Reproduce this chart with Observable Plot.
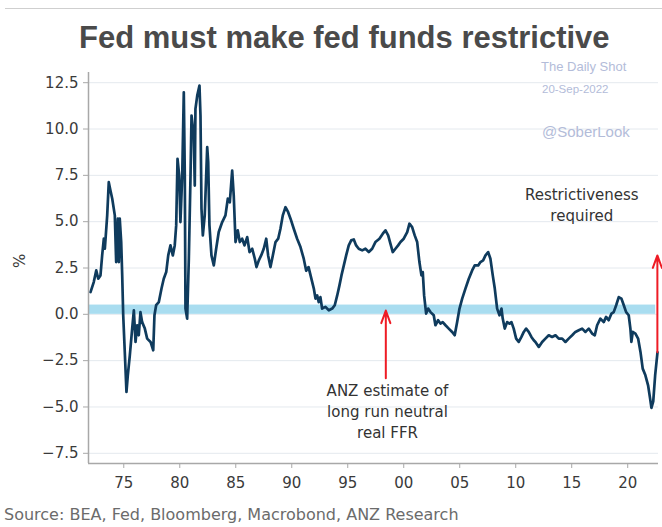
<!DOCTYPE html>
<html>
<head>
<meta charset="utf-8">
<script src="https://cdn.jsdelivr.net/npm/d3@7"></script>
<script src="https://cdn.jsdelivr.net/npm/@observablehq/plot@0.6"></script>
<style>
  html, body { margin: 0; padding: 0; background: #fff; }
  #wrap { position: relative; width: 662px; height: 527px; overflow: hidden; font-family: "DejaVu Sans", sans-serif; }
  #topline { position: absolute; left: 5px; top: 8px; width: 657px; height: 0; border-top: 1px solid #cfcfcf; }
  #title { position: absolute; left: 79px; top: 18px; white-space: nowrap; font-family: "Liberation Sans", Arial, sans-serif; font-weight: bold; font-size: 31px; color: #4a4a4a; line-height: 40px; }
  #chart { position: absolute; left: 0; top: 58px; }
  .wm { position: absolute; font-family: "Liberation Sans", Arial, sans-serif; color: #b3bcd9; white-space: nowrap; line-height: 1; }
  #caption { position: absolute; left: 4px; top: 505px; font-size: 16px; color: #6b6b6b; white-space: nowrap; line-height: 20px; }
</style>
</head>
<body>
<div id="wrap">
  <div id="topline"></div>
  <div id="title">Fed must make fed funds restrictive</div>
  <div id="chart"></div>
  <div class="wm" style="left:541px; top:60px; font-size:13px;">The Daily Shot</div>
  <div class="wm" style="left:542px; top:84px; font-size:11.5px;">20-Sep-2022</div>
  <div class="wm" style="left:542px; top:124px; font-size:15px;">@SoberLook</div>
  <div id="caption">Source: BEA, Fed, Bloomberg, Macrobond, ANZ Research</div>
</div>
<script>
const years = [
  1972.03,1972.32,1972.54,1972.72,1972.92,1973.07,1973.22,1973.31,1973.52,1973.66,1973.81,1973.97,
  1974.2,1974.32,1974.47,1974.56,1974.64,1974.77,1974.86,1974.95,1975.09,1975.24,1975.36,1975.54,
  1975.75,1975.9,1976.05,1976.2,1976.34,1976.49,1976.64,1976.88,1977.09,1977.39,1977.63,1977.74,
  1977.89,1978.13,1978.37,1978.57,1978.79,1978.97,1979.17,1979.38,1979.55,1979.68,1979.8,1979.95,
  1980.06,1980.22,1980.36,1980.45,1980.51,1980.66,1980.81,1980.96,1981.05,1981.25,1981.34,1981.4,
  1981.56,1981.76,1981.85,1981.94,1982.06,1982.23,1982.45,1982.54,1982.65,1982.83,1983.04,1983.25,
  1983.48,1983.79,1984.08,1984.29,1984.47,1984.68,1984.82,1984.98,1985.18,1985.36,1985.57,1985.78,
  1986.02,1986.23,1986.47,1986.7,1986.85,1987.06,1987.27,1987.5,1987.72,1987.89,1988.1,1988.31,
  1988.55,1988.79,1988.99,1989.2,1989.44,1989.68,1989.89,1990.18,1990.48,1990.78,1991.07,1991.29,
  1991.5,1991.68,1991.97,1992.12,1992.27,1992.41,1992.56,1992.71,1993.01,1993.31,1993.61,1993.84,
  1994.06,1994.26,1994.44,1994.65,1994.86,1995.09,1995.31,1995.54,1995.75,1995.98,1996.29,1996.58,
  1996.88,1997.18,1997.47,1997.83,1998.13,1998.37,1998.61,1998.81,1999.02,1999.26,1999.5,1999.71,
  2000.0,2000.31,2000.51,2000.75,2000.98,2001.2,2001.4,2001.58,2001.7,2001.82,2002.0,2002.18,
  2002.39,2002.68,2002.83,2003.07,2003.28,2003.48,2003.73,2004.02,2004.32,2004.55,2004.77,2004.98,
  2005.22,2005.51,2005.81,2006.11,2006.34,2006.65,2006.85,2007.09,2007.3,2007.54,2007.74,2007.95,
  2008.13,2008.34,2008.55,2008.73,2008.84,2009.02,2009.23,2009.44,2009.62,2009.82,2010.04,2010.27,
  2010.51,2010.72,2010.93,2011.16,2011.4,2011.61,2011.76,2012.06,2012.36,2012.65,2012.95,2013.25,
  2013.55,2013.84,2014.15,2014.44,2014.73,2015.04,2015.33,2015.63,2015.93,2016.23,2016.52,2016.82,
  2017.06,2017.27,2017.56,2017.86,2018.07,2018.3,2018.55,2018.75,2018.97,2019.2,2019.44,2019.65,
  2019.86,2020.09,2020.24,2020.33,2020.45,2020.69,2020.93,2021.14,2021.34,2021.58,2021.82,2022.0,
  2022.12,2022.28,2022.45,2022.66
];
const values = [
  1.2,1.74,2.37,1.92,2.1,3.18,4.08,3.54,5.34,7.13,6.68,6.24,
  5.34,2.82,5.16,2.82,5.16,3.9,2.1,-0.05,-2.03,-4.19,-3.29,-2.21,
  -0.77,0.22,-1.49,-0.59,-1.13,0.12,-0.42,-0.77,-1.31,-1.49,-1.94,-0.05,
  0.49,0.66,1.39,1.92,2.28,3.18,3.72,3.18,3.72,4.8,8.39,7.49,
  4.98,7.49,11.98,7.49,0.31,-0.23,3.0,7.49,10.73,9.65,6.95,11.09,
  11.8,12.34,10.73,5.7,4.26,5.34,9.02,8.21,4.8,3.18,2.64,3.54,
  4.44,4.98,5.34,6.24,6.05,7.76,6.41,3.9,4.53,3.9,4.08,3.72,
  4.17,3.36,3.54,3.0,2.55,2.91,3.18,3.54,4.08,3.18,2.55,3.18,
  3.9,4.08,4.62,5.34,5.78,5.51,5.16,4.62,4.08,3.63,3.0,2.35,
  2.55,2.1,1.39,0.85,1.02,0.66,0.93,0.31,0.4,0.22,0.31,0.49,
  1.02,1.56,2.1,2.64,3.18,3.72,3.99,4.04,3.72,3.54,3.45,3.54,
  3.36,3.54,3.9,4.08,4.35,4.53,4.26,3.81,3.36,3.54,3.72,3.9,
  4.08,4.44,4.89,4.71,4.26,3.9,2.82,2.1,2.28,1.02,0.04,0.31,
  0.12,-0.05,-0.59,-0.32,-0.5,-0.42,-0.59,-0.77,-0.95,-1.13,-0.42,0.31,
  0.85,1.39,1.92,2.37,2.64,2.64,2.82,2.91,3.18,3.36,3.0,2.1,
  1.39,0.31,-0.05,0.31,-0.23,-0.77,-0.42,-0.5,-0.42,-0.77,-1.31,-1.49,
  -1.22,-0.95,-0.77,-0.95,-1.22,-1.4,-1.49,-1.76,-1.49,-1.31,-1.13,-1.22,
  -1.13,-1.31,-1.31,-1.49,-1.31,-1.13,-0.95,-0.86,-0.77,-0.95,-0.77,-1.04,
  -1.13,-0.59,-0.23,-0.42,-0.14,-0.32,0.04,0.12,0.49,0.93,0.85,0.49,
  0.12,-0.05,-0.77,-1.49,-0.95,-1.04,-1.31,-2.03,-2.93,-3.29,-3.83,-4.55,
  -5.05,-4.7,-3.3,-2.05
];

// Axes
const xDomain = [1971.85, 2022.75];
const yDomain = [-8.05, 13.05];
const xTicks = [1975, 1980, 1985, 1990, 1995, 2000, 2005, 2010, 2015, 2020];
const yTicks = [-7.5, -5, -2.5, 0, 2.5, 5, 7.5, 10, 12.5];

// ANZ neutral-rate band
const bandX = [1971.85, 2022.5];
const bandY = [0, 0.5];

// Arrows
const arrowX = [1998.4, 2022.65];
const arrowFrom = [-3.45, -2.05];
const arrowTo = [0.2, 3.18];

// Annotations
const noteText = ["ANZ estimate of\nlong run neutral\nreal FFR", "Restrictiveness\nrequired"];
const noteX = [1998.55, 2015.9];
const noteY = [-5.18, 5.96];

const data = years.map((x, i) => ({x, y: values[i]}));
const arrows = arrowX.map((x, i) => ({x, y1: arrowFrom[i], y2: arrowTo[i]}));
const notes = noteText.map((t, i) => ({t, x: noteX[i], y: noteY[i]}));

const chart = Plot.plot({
  width: 662,
  height: 445,
  marginTop: 14,
  marginBottom: 40,
  marginLeft: 88,
  marginRight: 4,
  x: {domain: xDomain},
  y: {domain: yDomain},
  style: {fontFamily: "DejaVu Sans, sans-serif", fontSize: "15px", color: "#333", background: "transparent", overflow: "visible"},
  marks: [
    Plot.gridY(yTicks, {stroke: "#e4e9ee", strokeOpacity: 1, strokeWidth: 1}),
    Plot.rect([0], {x1: bandX[0], x2: bandX[1], y1: bandY[0], y2: bandY[1], fill: "#a9ddf0"}),
    Plot.line(data, {x: "x", y: "y", stroke: "#0f3b5d", strokeWidth: 2.7, strokeLinejoin: "round"}),
    Plot.arrow(arrows, {x1: "x", x2: "x", y1: "y1", y2: "y2", stroke: "#ee1c25", strokeWidth: 2, headLength: 10, headAngle: 40}),
    Plot.text(notes, {x: "x", y: "y", text: "t", lineHeight: 1.4, fill: "#333", fontSize: 15}),
    Plot.ruleX([xDomain[0]], {stroke: "#a8a8a8", strokeWidth: 1.5}),
    Plot.ruleY([yDomain[0]], {stroke: "#a8a8a8", strokeWidth: 1.5}),
    Plot.axisY(yTicks, {tickFormat: d3.format(".1f"), tickSize: 5, tickPadding: 5, stroke: "#a8a8a8", fill: "#3a3a3a", fontSize: 15, label: null}),
    Plot.axisX(xTicks, {tickFormat: d => String(d % 100).padStart(2, "0"), tickSize: 5, tickPadding: 9, stroke: "#a8a8a8", fill: "#3a3a3a", fontSize: 15, label: null}),
    Plot.text(["%"], {frameAnchor: "left", dx: -68, rotate: -90, fill: "#3a3a3a", fontSize: 15})
  ]
});
document.getElementById("chart").appendChild(chart);
</script>
</body>
</html>
